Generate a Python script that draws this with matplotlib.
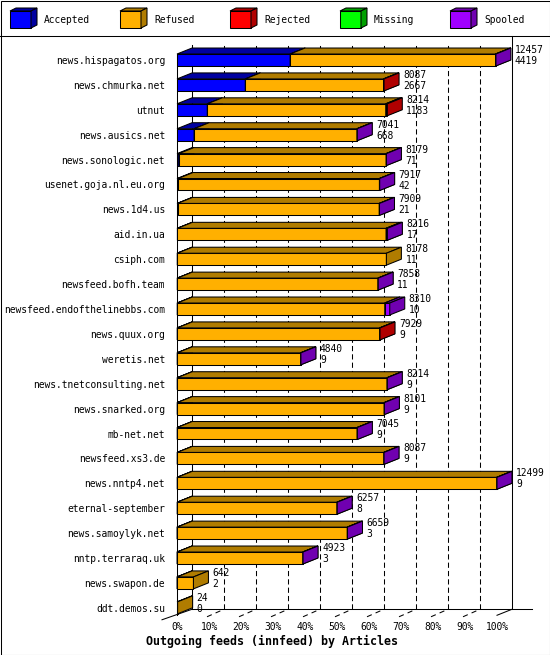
"""
innfeed outgoing feeds, pseudo-3D stacked bars
"""
import matplotlib
matplotlib.use("Agg")
import matplotlib.pyplot as plt
from matplotlib.patches import Polygon, Rectangle

hosts = [
    "news.hispagatos.org", "news.chmurka.net", "utnut", "news.ausics.net",
    "news.sonologic.net", "usenet.goja.nl.eu.org", "news.1d4.us", "aid.in.ua",
    "csiph.com", "newsfeed.bofh.team", "newsfeed.endofthelinebbs.com",
    "news.quux.org", "weretis.net", "news.tnetconsulting.net",
    "news.snarked.org", "mb-net.net", "newsfeed.xs3.de", "news.nntp4.net",
    "eternal-september", "news.samoylyk.net", "nntp.terraraq.uk",
    "news.swapon.de", "ddt.demos.su",
]
offered = [12457, 8087, 8214, 7041, 8179, 7917, 7909, 8216, 8178, 7858, 8310,
           7929, 4840, 8214, 8101, 7045, 8087, 12499, 6257, 6659, 4923, 642, 24]
accepted = [4419, 2667, 1183, 668, 71, 42, 21, 17, 11, 11, 10,
            9, 9, 9, 9, 9, 9, 9, 8, 3, 3, 2, 0]
refused = [8023, 5400, 6971, 6363, 8098, 7865, 7878, 8149, 8167, 7837, 8105,
           7905, 4821, 8195, 8082, 7026, 8068, 12480, 6239, 6646, 4910, 640, 24]
rejected = [0, 20, 60, 0, 0, 0, 0, 40, 0, 0, 0,
            15, 0, 0, 0, 0, 0, 0, 0, 0, 0, 0, 0]
missing = [0, 0, 0, 0, 0, 0, 0, 0, 0, 0, 0,
           0, 0, 0, 0, 0, 0, 0, 0, 0, 0, 0, 0]
spooled = [15, 0, 0, 10, 10, 10, 10, 10, 0, 10, 195,
           0, 10, 10, 10, 10, 10, 10, 10, 10, 10, 0, 0]

series = ["Accepted", "Refused", "Rejected", "Missing", "Spooled"]
front_col = ["#0000ff", "#ffb000", "#ff0000", "#00ff00", "#a000ff"]
dark_col = ["#0000a0", "#b07c00", "#b00000", "#00a000", "#7000b0"]
pct_labels = ["0%", "10%", "20%", "30%", "40%", "50%",
              "60%", "70%", "80%", "90%", "100%"]

W, H = 550, 655
DX, DY = 15, 6        # bar depth in pixels
LW = 0.75
PX = 0.72             # points per pixel at dpi 100


def main():
    plt.rcParams["font.family"] = "DejaVu Sans Mono"
    plt.rcParams["font.size"] = 6.9

    fig = plt.figure(figsize=(W / 100, H / 100), dpi=100)
    over = fig.add_axes([0, 0, 1, 1])
    over.set_xlim(0, W)
    over.set_ylim(H, 0)
    over.axis("off")

    n = len(hosts)
    xmax = max(offered)
    ax = fig.add_axes([177 / W, 1 - 620.25 / H, 320 / W, 572.7 / H])
    ax.set_xlim(0, xmax)
    ax.set_ylim(n - 0.5, -0.5)
    ax.axis("off")

    def shift(x, y, dxp, dyp):
        px, py = ax.transData.transform((x, y))
        return tuple(ax.transData.inverted().transform((px + dxp, py + dyp)))

    def back(x, y):
        return shift(x, y, DX, DY)

    def line(p0, p1, **kw):
        ax.plot([p0[0], p1[0]], [p0[1], p1[1]], color="black", lw=LW,
                clip_on=False, zorder=1, **kw)

    floor_y = n - 0.7
    top_y = -0.35

    # back wall grid
    for k in range(1, 10):
        t = xmax * k / 10
        line(back(t, floor_y), back(t, top_y), dashes=(5, 3))

    # frame lines
    line(back(0, floor_y), back(0, top_y))
    line((0, floor_y), (0, -0.24))
    line(shift(0, floor_y, -DX, -4.5), back(0, floor_y))
    rb = back(xmax, floor_y)
    line(back(0, floor_y), shift(rb[0], rb[1], 20, 0))
    line((xmax, floor_y), rb)
    ytop = ax.transData.inverted().transform((0, H - 35.5))[1]
    line(rb, (rb[0], ytop))

    for k in range(11):
        t = xmax * k / 10
        if 0 < k < 10:
            line(shift(t, floor_y, -2, -1.5), back(t, floor_y), dashes=(5, 4))
        ax.annotate(pct_labels[k], (t, floor_y), xytext=(0, -12 * PX),
                    textcoords="offset points", ha="center", va="center",
                    annotation_clip=False)

    # bars
    values = [accepted, refused, rejected, missing, spooled]
    hh = 0.24
    for i in range(n):
        left = 0
        for s in range(len(series)):
            v = values[s][i]
            if v <= 0:
                continue
            right = left + v
            yt, yb = i - hh, i + hh
            ax.add_patch(Rectangle((left, yt), v, 2 * hh, fc=front_col[s],
                                   ec="black", lw=LW, clip_on=False, zorder=3))
            ax.add_patch(Polygon([(left, yt), (right, yt), back(right, yt),
                                  back(left, yt)], closed=True,
                                 fc=dark_col[s], ec="black", lw=LW,
                                 clip_on=False, zorder=3))
            ax.add_patch(Polygon([(right, yt), (right, yb), back(right, yb),
                                  back(right, yt)], closed=True,
                                 fc=dark_col[s], ec="black", lw=LW,
                                 clip_on=False, zorder=3))
            left = right
        ax.annotate(hosts[i], (0, i), xytext=(-12 * PX, -1 * PX),
                    textcoords="offset points", ha="right", va="center",
                    annotation_clip=False)
        ax.annotate(str(offered[i]), (offered[i], i - hh),
                    xytext=((DX + 4) * PX, (DY - 2) * PX),
                    textcoords="offset points", ha="left", va="center",
                    annotation_clip=False)
        ax.annotate(str(accepted[i]), (offered[i], i - hh),
                    xytext=((DX + 4) * PX, (DY - 13) * PX),
                    textcoords="offset points", ha="left", va="center",
                    annotation_clip=False)

    # legend
    for k, name in enumerate(series):
        x0 = 10 + 110 * k
        over.add_patch(Rectangle((x0, 11), 21, 17, fc=front_col[k],
                                 ec="black", lw=LW))
        over.add_patch(Polygon([(x0, 11), (x0 + 21, 11), (x0 + 27, 8),
                                (x0 + 6, 8)], closed=True, fc=dark_col[k],
                               ec="black", lw=LW))
        over.add_patch(Polygon([(x0 + 21, 11), (x0 + 21, 28), (x0 + 27, 25),
                                (x0 + 27, 8)], closed=True, fc=dark_col[k],
                               ec="black", lw=LW))
        over.text(x0 + 34, 20, name, ha="left", va="center")

    over.plot([0, W], [35.5, 35.5], color="black", lw=LW)
    over.add_patch(Rectangle((0.5, 0.5), W - 1, H - 1, fc="none",
                             ec="black", lw=LW))
    over.text(272, 641, "Outgoing feeds (innfeed) by Articles",
              ha="center", va="center", fontsize=8.4, fontweight="bold")

    fig.savefig("out.png", dpi=100)


if __name__ == "__main__":
    main()
